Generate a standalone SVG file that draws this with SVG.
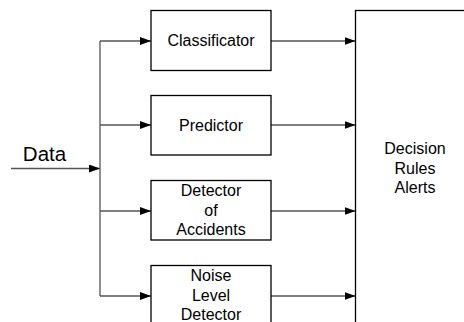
<svg xmlns="http://www.w3.org/2000/svg" width="464" height="322" viewBox="0 0 464 322">
<style>
.box{fill:#fff;stroke:#000;stroke-width:1.3}
.ln{fill:none;stroke:#555;stroke-width:1.3}
text{font-family:"Liberation Sans",Arial,sans-serif;font-size:16px;fill:#000;text-anchor:middle}
</style>
<defs>
<marker id="ah" markerUnits="userSpaceOnUse" markerWidth="12" markerHeight="8" refX="11" refY="4" orient="auto">
<path d="M0,0 L11,4 L0,8 Z" fill="#000"/>
</marker>
</defs>
<rect width="464" height="322" fill="#fff"/>
<g id="connectors">
<line class="ln" x1="100" y1="41" x2="100" y2="296"/>
<line class="ln" x1="11" y1="168.5" x2="100" y2="168.5" marker-end="url(#ah)"/>
<line class="ln" x1="100" y1="41" x2="151" y2="41" marker-end="url(#ah)"/>
<line class="ln" x1="100" y1="125" x2="151" y2="125" marker-end="url(#ah)"/>
<line class="ln" x1="100" y1="211" x2="151" y2="211" marker-end="url(#ah)"/>
<line class="ln" x1="100" y1="296" x2="151" y2="296" marker-end="url(#ah)"/>
<line class="ln" x1="271" y1="41" x2="355.5" y2="41" marker-end="url(#ah)"/>
<line class="ln" x1="271" y1="125" x2="355.5" y2="125" marker-end="url(#ah)"/>
<line class="ln" x1="271" y1="211" x2="355.5" y2="211" marker-end="url(#ah)"/>
<line class="ln" x1="271" y1="296" x2="355.5" y2="296" marker-end="url(#ah)"/>
</g>
<g id="data">
<text x="44.5" y="160.5" style="font-size:20.5px">Data</text>
</g>
<g id="classificator">
<rect class="box" x="151" y="10.5" width="120" height="60"/>
<text x="211" y="46">Classificator</text>
</g>
<g id="predictor">
<rect class="box" x="151" y="95.5" width="120" height="59.5"/>
<text x="211" y="131">Predictor</text>
</g>
<g id="detector-accidents">
<rect class="box" x="151" y="180.5" width="120" height="59.5"/>
<text x="211" y="196">Detector</text>
<text x="211" y="215.5">of</text>
<text x="211" y="235">Accidents</text>
</g>
<g id="noise-detector">
<rect class="box" x="151" y="265.5" width="120" height="60"/>
<text x="211" y="281">Noise</text>
<text x="211" y="300.5">Level</text>
<text x="211" y="320">Detector</text>
</g>
<g id="decision">
<rect class="box" x="355.5" y="10.5" width="120" height="320"/>
<text x="415" y="154">Decision</text>
<text x="415" y="173.5">Rules</text>
<text x="415" y="193">Alerts</text>
</g>
</svg>
